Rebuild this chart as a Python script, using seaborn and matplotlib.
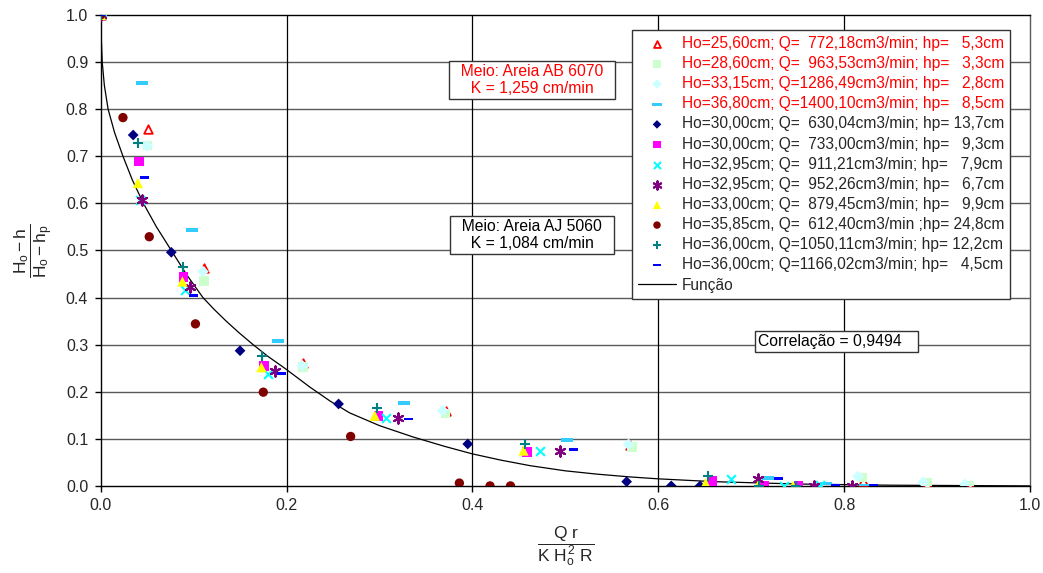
import matplotlib
matplotlib.use("Agg")
import matplotlib.pyplot as plt
import seaborn as sns
import numpy as np

# Função (curva ajustada)
func_x = [0, 0.0005, 0.0017, 0.004, 0.008, 0.015, 0.024, 0.034, 0.046, 0.06, 0.076, 0.092,
          0.11, 0.122, 0.135, 0.149, 0.164, 0.18, 0.198, 0.225, 0.247, 0.268, 0.30, 0.336,
          0.37, 0.40, 0.43, 0.462, 0.50, 0.534, 0.57, 0.60, 0.66, 0.75, 0.85, 1.0]
func_y = [1.0, 0.96, 0.90, 0.85, 0.80, 0.75, 0.70, 0.65, 0.60, 0.55, 0.50, 0.45,
          0.40, 0.375, 0.35, 0.325, 0.30, 0.275, 0.25, 0.21, 0.18, 0.155, 0.128, 0.104,
          0.084, 0.068, 0.055, 0.043, 0.032, 0.025, 0.019, 0.015, 0.009, 0.004, 0.0015, 0.0]

# Areia AB 6070
ab_ho256_x = [0, 0.0505, 0.111, 0.218, 0.372, 0.570, 0.820, 0.889, 0.935]
ab_ho256_y = [1.0, 0.757, 0.462, 0.262, 0.160, 0.086, 0.010, 0.003, 0.0]
ab_ho286_x = [0, 0.0505, 0.111, 0.218, 0.371, 0.572, 0.820, 0.889, 0.935]
ab_ho286_y = [1.0, 0.723, 0.435, 0.252, 0.154, 0.083, 0.018, 0.007, 0.001]
ab_ho3315_x = [0, 0.050, 0.110, 0.217, 0.368, 0.568, 0.815, 0.885, 0.930]
ab_ho3315_y = [1.0, 0.722, 0.455, 0.255, 0.160, 0.088, 0.020, 0.008, 0.003]
ab_ho368_x = [0, 0.045, 0.098, 0.191, 0.326, 0.502, 0.718, 0.781, 0.822]
ab_ho368_y = [1.0, 0.856, 0.544, 0.308, 0.176, 0.098, 0.016, 0.005, 0.0]

# Areia AJ 5060
aj_ho30a_x = [0, 0.035, 0.076, 0.150, 0.256, 0.395, 0.566, 0.614, 0.645]
aj_ho30a_y = [1.0, 0.745, 0.496, 0.287, 0.174, 0.089, 0.009, 0.0, 0.0]
aj_ho30b_x = [0, 0.0415, 0.089, 0.176, 0.299, 0.459, 0.658, 0.714, 0.751]
aj_ho30b_y = [1.0, 0.689, 0.443, 0.255, 0.149, 0.072, 0.011, 0.001, 0.0]
aj_ho3295a_x = [0, 0.042, 0.0907, 0.180, 0.307, 0.473, 0.678, 0.735, 0.774]
aj_ho3295a_y = [1.0, 0.607, 0.415, 0.237, 0.145, 0.075, 0.014, 0.0, 0.002]
aj_ho3295b_x = [0, 0.045, 0.096, 0.188, 0.320, 0.494, 0.707, 0.768, 0.808]
aj_ho3295b_y = [1.0, 0.607, 0.423, 0.243, 0.145, 0.075, 0.014, 0.0, 0.0]
aj_ho33_x = [0, 0.040, 0.088, 0.173, 0.295, 0.455, 0.651, 0.707, 0.745]
aj_ho33_y = [1.0, 0.643, 0.434, 0.252, 0.149, 0.075, 0.006, 0.0, 0.0]
aj_ho3585_x = [0, 0.024, 0.0523, 0.102, 0.175, 0.269, 0.386, 0.419, 0.441]
aj_ho3585_y = [1.0, 0.782, 0.529, 0.344, 0.199, 0.105, 0.006, 0.0, 0.0]
aj_ho36a_x = [0, 0.0405, 0.089, 0.174, 0.297, 0.457, 0.654, 0.708, 0.748]
aj_ho36a_y = [1.0, 0.728, 0.464, 0.275, 0.165, 0.089, 0.021, 0.0, 0.0]
aj_ho36b_x = [0, 0.0477, 0.100, 0.195, 0.331, 0.509, 0.729, 0.791, 0.832]
aj_ho36b_y = [1.0, 0.655, 0.404, 0.239, 0.142, 0.078, 0.016, 0.0, 0.0]

labels = [
    "Ho=25,60cm; Q=  772,18cm3/min; hp=   5,3cm",
    "Ho=28,60cm; Q=  963,53cm3/min; hp=   3,3cm",
    "Ho=33,15cm; Q=1286,49cm3/min; hp=   2,8cm",
    "Ho=36,80cm; Q=1400,10cm3/min; hp=   8,5cm",
    "Ho=30,00cm; Q=  630,04cm3/min; hp= 13,7cm",
    "Ho=30,00cm; Q=  733,00cm3/min; hp=   9,3cm",
    "Ho=32,95cm; Q=  911,21cm3/min; hp=   7,9cm",
    "Ho=32,95cm; Q=  952,26cm3/min; hp=   6,7cm",
    "Ho=33,00cm; Q=  879,45cm3/min; hp=   9,9cm",
    "Ho=35,85cm, Q=  612,40cm3/min ;hp= 24,8cm",
    "Ho=36,00cm, Q=1050,11cm3/min; hp= 12,2cm",
    "Ho=36,00cm; Q=1166,02cm3/min; hp=   4,5cm",
]

series_x = [ab_ho256_x, ab_ho286_x, ab_ho3315_x, ab_ho368_x, aj_ho30a_x, aj_ho30b_x,
            aj_ho3295a_x, aj_ho3295b_x, aj_ho33_x, aj_ho3585_x, aj_ho36a_x, aj_ho36b_x]
series_y = [ab_ho256_y, ab_ho286_y, ab_ho3315_y, ab_ho368_y, aj_ho30a_y, aj_ho30b_y,
            aj_ho3295a_y, aj_ho3295b_y, aj_ho33_y, aj_ho3585_y, aj_ho36a_y, aj_ho36b_y]

dash = [(-1, -0.32), (1, -0.32), (1, 0.32), (-1, 0.32)]
# (marker, face, edge, size, linewidth)
styles = [
    ("^", "white", "red", 38, 1.3),
    ("s", "#CCFFCC", "none", 48, 0),
    ("D", "#CCFFFF", "none", 36, 0),
    (dash, "#33CCFF", "none", 75, 0),
    ("D", "#000080", "none", 30, 0),
    ("s", "#FF00FF", "none", 48, 0),
    ("x", "#00FFFF", "#00FFFF", 40, 1.5),
    ((6, 2, 0), "#800080", "#800080", 55, 1.5),
    ("^", "#FFFF00", "none", 55, 0),
    ("o", "#800000", "none", 45, 0),
    ("+", "#008080", "#008080", 50, 1.5),
    (dash, "#0000FF", "none", 42, 0),
]

sns.set_style("white")
plt.rcParams['font.family'] = ['Liberation Sans', 'DejaVu Sans']
plt.rcParams['mathtext.fontset'] = 'custom'
plt.rcParams['mathtext.rm'] = 'Liberation Sans'
plt.rcParams['mathtext.it'] = 'Liberation Sans'

fig = plt.figure(figsize=(10.43, 5.73), dpi=100)
ax = fig.add_axes([0.0965, 0.152, 0.891, 0.822])

for v in np.arange(0.1, 1.0, 0.1):
    ax.axhline(v, color="#5a5a5a", lw=1.0, zorder=0)
for v in [0.2, 0.4, 0.6, 0.8]:
    ax.axvline(v, color="black", lw=0.9, zorder=0)

sns.lineplot(x=func_x, y=func_y, color="black", lw=0.9, ax=ax, label="Função",
             zorder=2, sort=False)

for i in range(len(series_x)):
    mk, fc, ec, sz, lw = styles[i]
    if mk in ("x", "+") or isinstance(mk, tuple):
        sns.scatterplot(x=series_x[i], y=series_y[i], marker=mk, color=fc, s=sz,
                        linewidth=lw, ax=ax, label=labels[i], zorder=3 + i)
    else:
        sns.scatterplot(x=series_x[i], y=series_y[i], marker=mk, color=fc, edgecolor=ec,
                        s=sz, linewidth=lw, ax=ax, label=labels[i], zorder=3 + i)

ax.set_xlim(0, 1.0)
ax.set_ylim(0, 1.0)
ax.set_xticks(np.arange(0, 1.01, 0.2))
ax.set_yticks(np.arange(0, 1.01, 0.1))
ax.xaxis.set_major_formatter(matplotlib.ticker.FormatStrFormatter("%.1f"))
ax.yaxis.set_major_formatter(matplotlib.ticker.FormatStrFormatter("%.1f"))
ax.tick_params(axis="both", labelsize=11.5, direction="out", length=4, width=1,
               color="black", left=True, bottom=True, pad=5)
for sp in ax.spines.values():
    sp.set_color("black")
    sp.set_linewidth(1.0)
ax.spines["right"].set_color("#5a5a5a")

ax.set_xlabel(r"$\dfrac{\mathrm{Q\ r}}{\mathrm{K\ H_o^{\,2}\ R}}$", fontsize=12.5, labelpad=8)
ax.set_ylabel(r"$\dfrac{\mathrm{H_o - h}}{\mathrm{H_o - h_p}}$", fontsize=12.5, labelpad=8)

box = dict(boxstyle="square,pad=0.2", facecolor="white", edgecolor="#333333", lw=1)
ax.text(0.464, 0.862, "  Meio: Areia AB 6070  \n  K = 1,259 cm/min  ", color="red",
        fontsize=11.3, ha="center", va="center", bbox=box, zorder=20, linespacing=1.15)
ax.text(0.464, 0.533, "  Meio: Areia AJ 5060  \n  K = 1,084 cm/min  ", color="black",
        fontsize=11.3, ha="center", va="center", bbox=box, zorder=20, linespacing=1.15)
ax.text(0.707, 0.306, "Correlação = 0,9494   ", color="black", fontsize=11.3,
        ha="left", va="center", bbox=box, zorder=20)

handles, labs = ax.get_legend_handles_labels()
order = [labs.index(l) for l in labels] + [labs.index("Função")]
leg = ax.legend([handles[k] for k in order], [labs[k] for k in order],
                loc="upper right", bbox_to_anchor=(0.987, 0.985), fontsize=11.2,
                frameon=True, fancybox=False, edgecolor="#333333", framealpha=1,
                labelspacing=0.33, handlelength=2.45, handletextpad=0.35,
                borderpad=0.4, markerscale=0.8)
leg.get_frame().set_linewidth(1.0)
leg.set_zorder(30)
for t in leg.get_texts()[:4]:
    t.set_color("red")

fig.savefig("out.png", dpi=100)
